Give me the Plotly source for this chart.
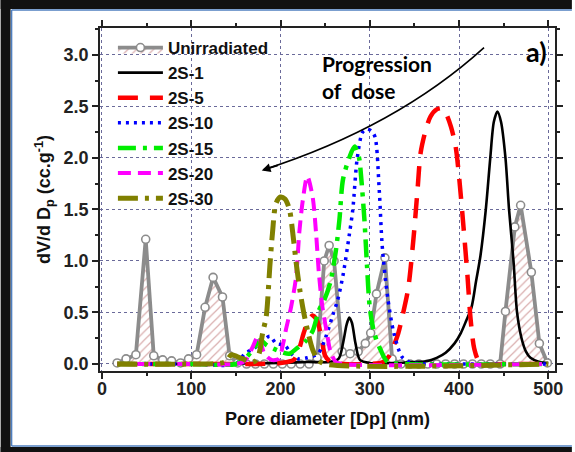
import plotly.graph_objects as go

# ---------------- data ----------------
unirr_x = [17, 27, 38, 49, 58, 68, 78, 88, 97, 106, 115.5, 124.5, 135, 143, 152, 162, 172, 182, 192, 202, 212, 222, 232,
           241, 249, 254.5, 260, 269, 278, 287, 295, 301, 307.5, 317, 325, 335, 345, 355, 365, 375, 385, 395, 405, 415,
           425, 435, 446, 452, 462.5, 469, 481, 490, 499]
unirr_y = [0.01, 0.05, 0.09, 1.21, 0.08, 0.04, 0.03, 0.01, 0.05, 0.09, 0.55, 0.84, 0.65, 0.08, 0.01, 0.0, 0.0, 0.0, 0.0,
           0.0, 0.0, 0.0, 0.0, 0.06, 1.0, 1.15, 1.0, 0.12, 0.1, 0.12, 0.2, 0.3, 0.68, 1.03, 0.05, 0.0, 0.0, 0.0, 0.0,
           0.0, 0.0, 0.0, 0.0, 0.0, 0.0, 0.0, 0.0, 0.51, 1.33, 1.54, 0.89, 0.2, 0.01]

s1_x = [17, 100, 200, 230, 255, 265, 270, 274, 277, 280, 284, 289, 300, 330, 350, 365, 375, 385, 395, 402, 408, 414,
        419, 424, 430, 435, 439, 443, 447, 452, 456, 461, 465, 470, 475, 480, 490, 500]
s1_y = [0.0, 0.0, 0.01, 0.02, 0.02, 0.05, 0.2, 0.38, 0.45, 0.4, 0.2, 0.04, 0.01, 0.01, 0.02, 0.03, 0.06, 0.11, 0.2,
        0.3, 0.42, 0.55, 0.8, 1.05, 1.5, 2.0, 2.35, 2.45, 2.35, 2.0, 1.5, 1.0, 0.5, 0.25, 0.12, 0.06, 0.02, 0.01]

s5_x = [17, 100, 200, 215, 221, 226, 231, 236, 241, 246, 250, 256, 270, 300, 315, 322, 327, 332, 337, 343, 349, 353.5,
        357, 362.7, 368, 375, 381, 386, 391, 396, 400, 405, 409.5, 413, 417, 422, 430, 450, 500]
s5_y = [0.0, 0.0, 0.01, 0.04, 0.15, 0.3, 0.42, 0.47, 0.42, 0.25, 0.08, 0.02, 0.0, 0.0, 0.02, 0.08, 0.18, 0.3, 0.48,
        0.73, 1.22, 1.69, 2.05, 2.27, 2.4, 2.47, 2.48, 2.42, 2.3, 2.12, 1.82, 1.33, 0.85, 0.43, 0.15, 0.03, 0.0, 0.0, 0.0]

s10_x = [17, 100, 150, 160, 170, 180, 188, 195, 205, 212, 220, 230, 242, 251, 258, 264, 270, 277, 281, 286, 292, 297,
         302, 306, 310.6, 314, 320, 327, 336, 344, 360, 400, 500]
s10_y = [0.0, 0.0, 0.0, 0.1, 0.15, 0.22, 0.27, 0.2, 0.18, 0.1, 0.05, 0.06, 0.1, 0.27, 0.46, 0.62, 0.86, 1.25, 1.5, 2.0,
         2.25, 2.28, 2.26, 2.2, 1.69, 1.14, 0.65, 0.3, 0.07, 0.02, 0.0, 0.0, 0.0]

s15_x = [17, 100, 150, 160, 170, 177, 185, 192, 200, 210, 218, 228, 236, 243, 249, 256, 262, 266, 270, 277, 283, 288,
         290, 294, 297, 300, 305, 312, 320, 340, 500]
s15_y = [0.0, 0.0, 0.0, 0.05, 0.15, 0.23, 0.18, 0.15, 0.12, 0.1, 0.15, 0.22, 0.32, 0.52, 0.62, 0.8, 1.1, 1.4, 1.79,
         2.0, 2.11, 2.0, 1.85, 1.4, 0.94, 0.55, 0.3, 0.14, 0.02, 0.0, 0.0]

s20_x = [17, 100, 150, 160, 168, 175, 182, 190, 198, 203, 206, 212, 217.5, 221, 225, 230, 236, 240, 243, 247, 252, 256,
         262, 270, 500]
s20_y = [0.0, 0.0, 0.0, 0.03, 0.15, 0.27, 0.1, 0.04, 0.05, 0.2, 0.33, 0.56, 0.85, 1.27, 1.59, 1.82, 1.62, 1.25, 0.88,
         0.55, 0.3, 0.12, 0.02, 0.0, 0.0]

s30_x = [17, 100, 138, 145, 152, 158, 165, 172, 176, 180, 184, 188, 191, 195, 200, 205, 210, 214, 218, 222, 226, 231,
         236, 242, 250, 500]
s30_y = [0.0, 0.0, 0.02, 0.09, 0.07, 0.05, 0.02, 0.03, 0.1, 0.3, 0.46, 0.94, 1.27, 1.56, 1.62, 1.6, 1.5, 1.25, 0.95,
         0.7, 0.5, 0.3, 0.14, 0.04, 0.0, 0.0]

names = ["Unirradiated", "2S-1", "2S-5", "2S-10", "2S-15", "2S-20", "2S-30"]
x_ticks = [0, 100, 200, 300, 400, 500]
y_ticks = [0.0, 0.5, 1.0, 1.5, 2.0, 2.5, 3.0]

# ---------------- figure ----------------
FONT = "Liberation Sans, Arial, sans-serif"
fig = go.Figure()

fig.add_trace(go.Scatter(
    x=unirr_x, y=unirr_y, name=names[0], mode="lines+markers",
    line=dict(color="#8c8c8c", width=3.8),
    marker=dict(symbol="circle", size=8, color="white", line=dict(color="#8c8c8c", width=1.6)),
    fill="tozeroy", fillcolor="white",
    fillpattern=dict(shape="/", fgcolor="#b35c5c", bgcolor="white", size=6, solidity=0.2),
))

series = [
    (s1_x, s1_y, names[1], "#000000", 2.6, "solid"),
    (s5_x, s5_y, names[2], "#ff0000", 4.5, "20px,12px"),
    (s10_x, s10_y, names[3], "#0000ff", 3.5, "3px,5px"),
    (s15_x, s15_y, names[4], "#00ee00", 4.5, "18px,7px,4px,7px"),
    (s20_x, s20_y, names[5], "#ff00ff", 4.0, "13px,7px"),
    (s30_x, s30_y, names[6], "#808000", 5.0, "20px,7px,4px,7px"),
]
for sx, sy, nm, col, w, dash in series:
    fig.add_trace(go.Scatter(
        x=sx, y=sy, name=nm, mode="lines",
        line=dict(color=col, width=w, dash=dash, shape="spline", smoothing=0.8),
    ))

# ---------------- frame (px -> paper) ----------------
L, R, T, B = 100, 558, 28, 371
def px(v):
    return (v - L) / (R - L)
def py(v):
    return (B - v) / (B - T)

FRAME = "#111111"
shapes = [
    dict(type="rect", xref="paper", yref="paper", x0=px(0), x1=px(575), y0=py(0), y1=py(9),
         fillcolor=FRAME, line=dict(width=0), layer="above"),
    dict(type="rect", xref="paper", yref="paper", x0=px(0), x1=px(10), y0=py(0), y1=py(452),
         fillcolor=FRAME, line=dict(width=0), layer="above"),
    dict(type="rect", xref="paper", yref="paper", x0=px(0), x1=px(575), y0=py(447), y1=py(452),
         fillcolor=FRAME, line=dict(width=0), layer="above"),
    dict(type="line", xref="paper", yref="paper", x0=px(11), x1=px(11), y0=py(10), y1=py(446),
         line=dict(color="#4f7fbf", width=1.5)),
    dict(type="line", xref="paper", yref="paper", x0=px(11), x1=px(575), y0=py(10), y1=py(10),
         line=dict(color="#4f7fbf", width=1.5)),
    dict(type="line", xref="paper", yref="paper", x0=px(11), x1=px(575), y0=py(446), y1=py(446),
         line=dict(color="#4f7fbf", width=1.5)),
    # curved "progression" arrow body
    dict(type="path", xref="x", yref="y", path="M 428,3.07 Q 330,2.3 181,1.885",
         line=dict(color="black", width=1.6)),
]

annotations = [
    dict(x=179, y=1.878, xref="x", yref="y", ax=19, ay=-6, axref="pixel", ayref="pixel",
         showarrow=True, arrowhead=2, arrowsize=1.1, arrowwidth=1.6, arrowcolor="black", text=" "),
    dict(x=244, y=2.78, xref="x", yref="y", xanchor="left", yanchor="middle", align="left", showarrow=False,
         text="<b>Progression<br>of  dose</b>", font=dict(family="Lato, sans-serif", size=21, color="black")),
    dict(x=487, y=3.03, xref="x", yref="y", xanchor="center", yanchor="middle", showarrow=False,
         text="<b>a)</b>", font=dict(family="Lato, sans-serif", size=27, color="black")),
]

axis_common = dict(
    showline=True, linecolor="#222222", linewidth=1.5, mirror="ticks",
    ticks="outside", ticklen=6, tickwidth=1.5, tickcolor="#222222",
    showgrid=True, gridcolor="#6a6a9a", gridwidth=1, griddash="dot",
    zeroline=False,
    tickfont=dict(family=FONT, size=18, color="#222222", weight="bold"),
)

fig.update_layout(
    width=575, height=452,
    margin=dict(l=L, r=575 - R, t=T, b=452 - B),
    paper_bgcolor="white", plot_bgcolor="white",
    showlegend=True,
    legend=dict(x=px(113), y=py(30), xanchor="left", yanchor="top", bgcolor="rgba(0,0,0,0)",
                font=dict(family=FONT, size=17, color="#111111", weight="bold"),
                itemwidth=45, tracegroupgap=0),
    xaxis=dict(range=[-2.2, 507.5], tickvals=x_ticks, ticktext=[str(v) for v in x_ticks],
               ticklabelstandoff=-5,
               minor=dict(dtick=50, tick0=0, ticks="outside", ticklen=3, tickcolor="#222222", showgrid=False),
               title=dict(text="<b>Pore diameter [Dp] (nm)</b>", standoff=14,
                          font=dict(family=FONT, size=18, color="#111111")),
               **axis_common),
    yaxis=dict(range=[-0.068, 3.26], tickvals=y_ticks, ticktext=[f"{v:.1f}" for v in y_ticks],
               minor=dict(dtick=0.25, tick0=0, ticks="outside", ticklen=3, tickcolor="#222222", showgrid=False),
               title=dict(text="<b>dV/d D<sub>p</sub> (cc.g<sup>-1</sup>)</b>", standoff=8,
                          font=dict(family=FONT, size=18, color="#111111")),
               **axis_common),
    shapes=shapes,
    annotations=annotations,
)

fig.write_html("out.html", config={"displayModeBar": False},
               post_script="document.body.style.margin='0';document.body.style.overflow='hidden';")
